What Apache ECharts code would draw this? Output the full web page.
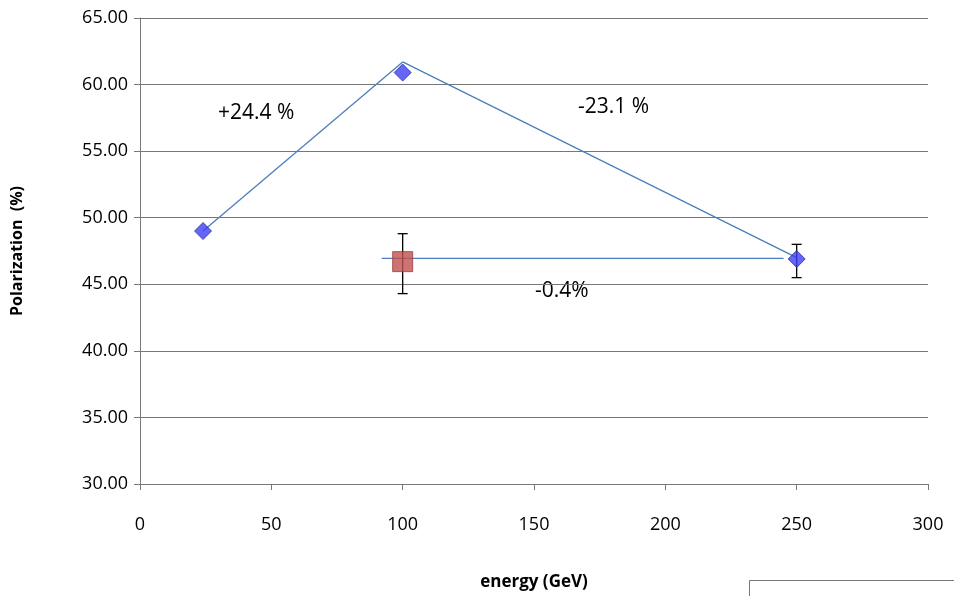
<!DOCTYPE html>
<html>
<head>
<meta charset="utf-8">
<script src="https://cdn.jsdelivr.net/npm/echarts@6/dist/echarts.min.js"></script>
<style>body{margin:0}#c{width:954px;height:596px}</style>
</head>
<body>
<div id="c"></div>
<script>
// measured points (energy GeV, polarization %)
var bluePts = [[24, 49.0], [100, 60.9], [250, 46.9]];
var redPts = [[100, 46.7]];
// error bars [x, low, high]
var errBars = [[100, 44.3, 48.8], [250, 45.5, 48.0]];
// trend lines
var riseLine = [[24, 49.0], [100, 61.7]];
var fallLine = [[100, 61.7], [250, 47.0]];
var flatLine = [[92, 46.95], [245, 46.95]];
var yTicks = [30, 65, 5];

var chart = echarts.init(document.getElementById('c'));
var font = 'Open Sans, Liberation Sans, sans-serif';
var thin = {color: '#4a7ebb', width: 1.3};

chart.setOption({
	animation: false,
	grid: {left: 140, right: 26, top: 18, bottom: 110},
	xAxis: {
		type: 'value', min: 0, max: 300, interval: 50,
		name: 'energy (GeV)', nameLocation: 'middle', nameGap: 90,
		nameTextStyle: {fontFamily: font, fontWeight: 'bold', fontSize: 17, color: '#000'},
		axisLine: {lineStyle: {color: '#777'}},
		axisTick: {show: true, length: 6, inside: false, lineStyle: {color: '#777'}},
		axisLabel: {fontFamily: font, fontSize: 18, color: '#000', margin: 32},
		splitLine: {show: false}
	},
	yAxis: {
		type: 'value', min: yTicks[0], max: yTicks[1], interval: yTicks[2],
		name: 'Polarization  (%)', nameLocation: 'middle', nameGap: 115,
		nameTextStyle: {fontFamily: font, fontWeight: 'bold', fontSize: 16, color: '#000'},
		axisLine: {show: true, lineStyle: {color: '#777'}},
		axisTick: {show: true, length: 6, lineStyle: {color: '#777'}},
		axisLabel: {fontFamily: font, fontSize: 18, color: '#000', margin: 12,
			formatter: function (v) { return v.toFixed(2); }},
		splitLine: {lineStyle: {color: '#777', width: 1}}
	},
	series: [
		{type: 'line', data: riseLine, symbol: 'none', lineStyle: thin, z: 2},
		{type: 'line', data: fallLine, symbol: 'none', lineStyle: thin, z: 2},
		{type: 'line', data: flatLine, symbol: 'none', lineStyle: thin, z: 2},
		{
			type: 'custom', z: 3,
			data: errBars,
			renderItem: function (params, api) {
				var lo = api.coord([api.value(0), api.value(1)]);
				var hi = api.coord([api.value(0), api.value(2)]);
				var w = 5, st = {stroke: '#000', lineWidth: 1.3};
				return {type: 'group', children: [
					{type: 'line', shape: {x1: lo[0], y1: lo[1], x2: hi[0], y2: hi[1]}, style: st},
					{type: 'line', shape: {x1: lo[0] - w, y1: lo[1], x2: lo[0] + w, y2: lo[1]}, style: st},
					{type: 'line', shape: {x1: hi[0] - w, y1: hi[1], x2: hi[0] + w, y2: hi[1]}, style: st}
				]};
			}
		},
		{type: 'scatter', data: bluePts, symbol: 'diamond', symbolSize: 17, z: 4,
			itemStyle: {color: '#3f3ff5', borderColor: '#2c2c9a', borderWidth: 1}},
		{type: 'scatter', data: redPts, symbol: 'rect', symbolSize: 20, z: 4,
			itemStyle: {color: '#c0504d', borderColor: '#a03c39', borderWidth: 1}}
	],
	graphic: [
		{type: 'text', left: 218, top: 103, style: {text: '+24.4 %', font: '21px ' + font, fill: '#000'}},
		{type: 'text', left: 578, top: 97, style: {text: '-23.1 %', font: '21px ' + font, fill: '#000'}},
		{type: 'text', left: 535, top: 281, style: {text: '-0.4%', font: '21px ' + font, fill: '#000'}},
		{type: 'rect', left: 749, top: 580, shape: {width: 210, height: 30},
			style: {fill: '#fff', stroke: '#777', lineWidth: 1}}
	]
});
</script>
</body>
</html>
